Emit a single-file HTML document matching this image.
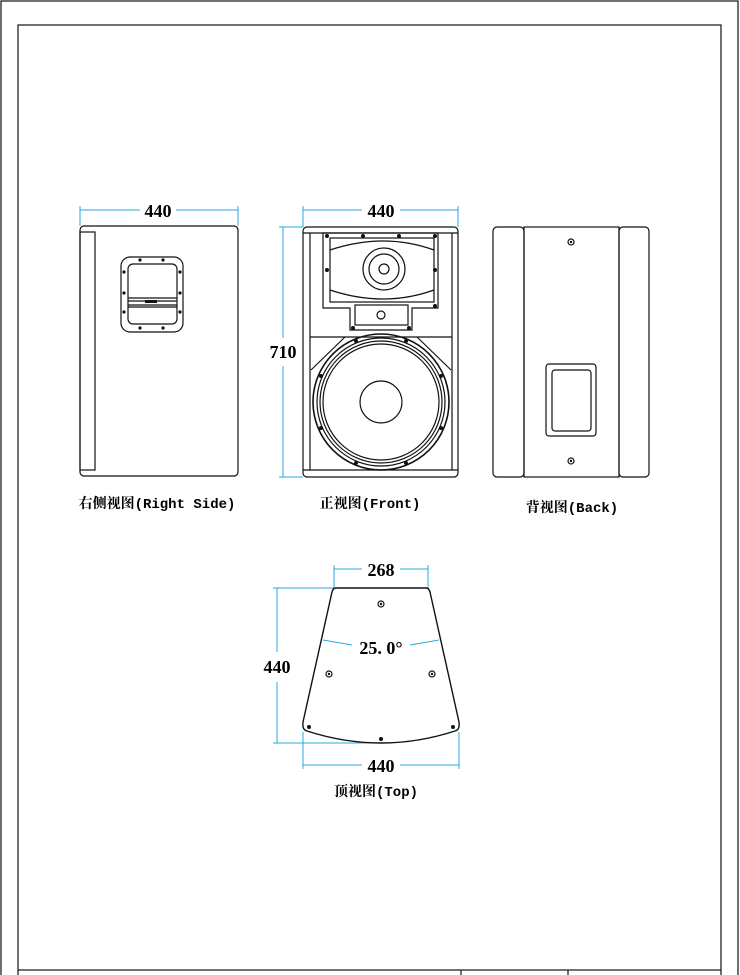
<!DOCTYPE html>
<html><head><meta charset="utf-8"><style>
html,body{margin:0;padding:0;background:#fff;}
svg{display:block;}
.d{font-family:"Liberation Serif","Noto Serif CJK SC",serif;font-size:18px;fill:#000;text-anchor:middle;}
.l{font-family:"Liberation Mono","Noto Serif CJK SC",serif;font-size:14px;font-weight:bold;fill:#000;text-anchor:middle;}
</style></head><body>
<svg width="740" height="975" viewBox="0 0 740 975" xmlns="http://www.w3.org/2000/svg">
<g fill="none" stroke="#222" stroke-width="1.3">
<rect x="1" y="1" width="737" height="980"/>
<rect x="18" y="25" width="703" height="960"/>
<line x1="18" y1="970" x2="721" y2="970"/>
<line x1="461" y1="970" x2="461" y2="975"/>
<line x1="568" y1="970" x2="568" y2="975"/>
</g>
<g stroke="#29a8e0" stroke-width="1" fill="#29a8e0">
<line x1="80" y1="206" x2="80" y2="226"/><line x1="238" y1="206" x2="238" y2="226"/>
<line x1="80" y1="210" x2="140" y2="210"/><line x1="176" y1="210" x2="238" y2="210"/>
<line x1="303" y1="206" x2="303" y2="227"/><line x1="458" y1="206" x2="458" y2="227"/>
<line x1="303" y1="210" x2="362" y2="210"/><line x1="400" y1="210" x2="458" y2="210"/>
<line x1="279" y1="227" x2="303" y2="227"/><line x1="279" y1="477" x2="303" y2="477"/>
<line x1="283" y1="227" x2="283" y2="338"/><line x1="283" y1="366" x2="283" y2="477"/>
<line x1="334" y1="565" x2="334" y2="588"/><line x1="428" y1="565" x2="428" y2="588"/>
<line x1="334" y1="569" x2="362" y2="569"/><line x1="400" y1="569" x2="428" y2="569"/>
<line x1="273" y1="588" x2="334" y2="588"/><line x1="273" y1="743" x2="381" y2="743"/>
<line x1="277" y1="588" x2="277" y2="652"/><line x1="277" y1="682" x2="277" y2="743"/>
<line x1="303" y1="732" x2="303" y2="769"/><line x1="459" y1="732" x2="459" y2="769"/>
<line x1="303" y1="765" x2="362" y2="765"/><line x1="400" y1="765" x2="459" y2="765"/>
<line x1="323" y1="640" x2="352" y2="645"/><line x1="410" y1="645" x2="439" y2="640"/>
</g>
<g class="d" font-weight="bold">
<text class="d" x="158" y="217">440</text>
<text class="d" x="381" y="217">440</text>
<text class="d" x="283" y="358">710</text>
<text class="d" x="381" y="576">268</text>
<text class="d" x="277" y="673">440</text>
<text class="d" x="381" y="772">440</text>
<text class="d" x="381" y="654">25. 0°</text>
</g>
<g fill="none" stroke="#111" stroke-width="1.2">
<rect x="80" y="226" width="158" height="250" rx="4"/>
<rect x="80" y="232" width="15" height="238"/>
<rect x="121" y="257" width="62" height="75" rx="9"/>
<rect x="128" y="264" width="49" height="60" rx="5"/>
<line x1="128" y1="298" x2="177" y2="298"/><line x1="128" y1="301" x2="177" y2="301"/>
<line x1="128" y1="305" x2="177" y2="305"/><line x1="128" y1="307" x2="177" y2="307"/>
<rect x="303" y="227" width="155" height="250" rx="4"/>
<line x1="303" y1="233" x2="458" y2="233"/><line x1="303" y1="470" x2="458" y2="470"/>
<line x1="310" y1="233" x2="310" y2="470"/><line x1="452" y1="233" x2="452" y2="470"/>
<path d="M323 233 H438 V308 H412 V330 H350 V308 H323 Z"/>
<rect x="330" y="238" width="104" height="64"/>
<path d="M330 250 Q384 232 434 250 M330 290 Q384 308 434 290"/>
<circle cx="384" cy="269" r="21"/><circle cx="384" cy="269" r="15"/><circle cx="384" cy="269" r="5"/>
<rect x="355" y="305" width="53" height="20"/>
<circle cx="381" cy="315" r="4"/>
<line x1="310" y1="337" x2="452" y2="337"/>
<line x1="311" y1="370" x2="345" y2="337"/><line x1="451" y1="370" x2="417" y2="337"/>
<circle cx="381" cy="402" r="68" stroke-width="1.6"/><circle cx="381" cy="402" r="64"/>
<circle cx="381" cy="402" r="61"/><circle cx="381" cy="402" r="58"/>
<circle cx="381" cy="402" r="21"/>
<rect x="493" y="227" width="31" height="250" rx="4"/>
<rect x="524" y="227" width="95" height="250"/>
<rect x="619" y="227" width="30" height="250" rx="4"/>
<rect x="546" y="364" width="50" height="72" rx="3"/>
<rect x="552" y="370" width="39" height="61" rx="3"/>
<circle cx="571" cy="242" r="3"/><circle cx="571" cy="461" r="3"/>
<path d="M336 588 H426 Q429 588 430 592 L459 722 Q460 730 455 731 Q381 755 307 731 Q302 730 303 722 L332 592 Q333 588 336 588 Z" stroke-width="1.4"/>
<circle cx="381" cy="604" r="3"/><circle cx="329" cy="674" r="3"/><circle cx="432" cy="674" r="3"/>
</g>
<g fill="#111">
<circle cx="571" cy="242" r="1.2"/><circle cx="571" cy="461" r="1.2"/>
<circle cx="381" cy="604" r="1.2"/><circle cx="329" cy="674" r="1.2"/><circle cx="432" cy="674" r="1.2"/>
<circle cx="309" cy="727" r="2"/><circle cx="453" cy="727" r="2"/><circle cx="381" cy="739" r="2"/>
<circle cx="140" cy="260" r="1.6"/><circle cx="163" cy="260" r="1.6"/><circle cx="140" cy="328" r="1.6"/><circle cx="163" cy="328" r="1.6"/>
<circle cx="124" cy="272" r="1.6"/><circle cx="124" cy="293" r="1.6"/><circle cx="124" cy="312" r="1.6"/>
<circle cx="180" cy="272" r="1.6"/><circle cx="180" cy="293" r="1.6"/><circle cx="180" cy="312" r="1.6"/>
<rect x="145" y="300" width="12" height="3"/>
<circle cx="327" cy="236" r="2"/><circle cx="363" cy="236" r="2"/><circle cx="399" cy="236" r="2"/><circle cx="435" cy="236" r="2"/>
<circle cx="327" cy="270" r="2"/><circle cx="435" cy="270" r="2"/><circle cx="435" cy="306" r="2"/>
<circle cx="353" cy="328" r="2"/><circle cx="409" cy="328" r="2"/>
<circle cx="356" cy="341" r="2"/><circle cx="406" cy="341" r="2"/><circle cx="321" cy="376" r="2"/><circle cx="441" cy="376" r="2"/>
<circle cx="321" cy="428" r="2"/><circle cx="441" cy="428" r="2"/><circle cx="356" cy="463" r="2"/><circle cx="406" cy="463" r="2"/>
</g>
<text class="l" x="157" y="508">右侧视图(Right Side)</text>
<text class="l" x="370" y="508">正视图(Front)</text>
<text class="l" x="572" y="512">背视图(Back)</text>
<text class="l" x="376" y="796">顶视图(Top)</text>
</svg>
</body></html>
